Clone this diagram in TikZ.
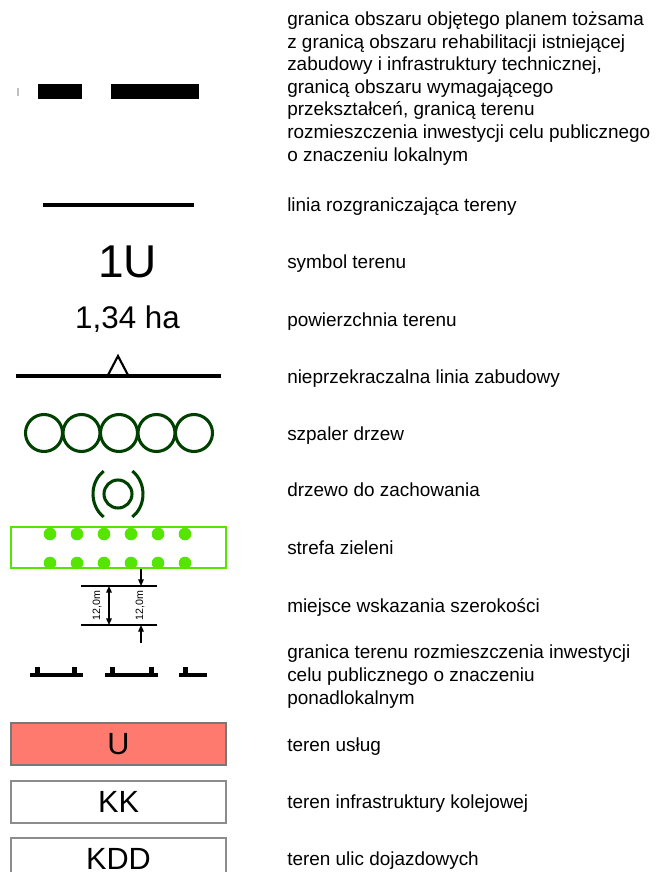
\documentclass[tikz,border=0pt]{standalone}
\usepackage{fontspec}
\setmainfont{Liberation Sans}
\usetikzlibrary{arrows.meta}
\definecolor{treegreen}{RGB}{0,64,0}
\definecolor{zgreen}{RGB}{85,229,0}
\definecolor{usal}{RGB}{255,122,110}
\definecolor{boxgray}{RGB}{120,120,120}
\begin{document}
\begin{tikzpicture}[x=0.75pt,y=-0.75pt,
  lbl/.style={anchor=base west, inner sep=0pt, font=\fontsize{14.2}{16.9}\selectfont, align=left},
  treeline/.style={draw=treegreen, line width=2.3pt},
  blackline/.style={draw=black, line width=2.4pt},
  zone/.style={draw=boxgray, line width=0.9pt, minimum width=161.25pt, minimum height=31.5pt, inner sep=0pt, font=\fontsize{23}{23}\selectfont},
  dimtxt/.style={rotate=90, inner sep=0pt, font=\fontsize{8}{8}\selectfont},
  tip/.style={-{Triangle[length=5pt,width=4.2pt]}, line width=1pt}
]
\useasboundingbox (0,0) rectangle (656,872);

% 1 boundary of plan
\draw[black!25, line width=0.8pt] (18,88) -- (18,96);
\fill[black] (38,84) rectangle (82,99);
\fill[black] (111,84) rectangle (199,99);
\node[lbl] (t1) at (287,161) {granica obszaru objętego planem tożsama\\z granicą obszaru rehabilitacji istniejącej\\zabudowy i infrastruktury technicznej,\\granicą obszaru wymagającego\\przekształceń, granicą terenu\\rozmieszczenia inwestycji celu publicznego\\o znaczeniu lokalnym};

% 2 demarcation line
\draw[blackline, line width=3pt] (43,205) -- (194,205);
\node[lbl] (t2) at (287,211) {linia rozgraniczająca tereny};

% 3 symbol
\node[inner sep=0pt, font=\fontsize{34.5}{34.5}\selectfont] (sym) at (127.5,262) {1U};
\node[lbl] (t3) at (287,268.5) {symbol terenu};

% 4 area
\node[inner sep=0pt, font=\fontsize{23.5}{23.5}\selectfont] (area) at (127.5,319) {1,34 ha};
\node[lbl] (t4) at (287,326) {powierzchnia terenu};

% 5 building line
\draw[blackline] (16,376) -- (221,376);
\draw[black, line width=1.6pt, line join=miter] (107.5,376) -- (118,356) -- (128.5,376);
\node[lbl] (t5) at (287,383) {nieprzekraczalna linia zabudowy};

% 6 tree row
\foreach \cx in {44,81.5,119,156.5,194}
  \draw[treeline] (\cx,433) circle[radius=18.5];
\node[lbl] (t6) at (287,440) {szpaler drzew};

% 7 tree
\draw[treeline] (118,494) circle[radius=14];
\draw[treeline] (118,494) ++(125:25 and 28) arc[start angle=125, end angle=235, x radius=25, y radius=28];
\draw[treeline] (118,494) ++(-55:25 and 28) arc[start angle=-55, end angle=55, x radius=25, y radius=28];
\node[lbl] (t7) at (287,496) {drzewo do zachowania};

% 8 green zone
\draw[draw=zgreen, line width=2.2pt] (11,527) rectangle (226,568);
\foreach \cx in {50,77,104,131,158,185}{
  \fill[zgreen] (\cx,534) circle[radius=6.3];
  \fill[zgreen] (\cx,563) circle[radius=6.3];
}
\node[lbl] (t8) at (287,554) {strefa zieleni};

% 9 width
\coordinate (wl1) at (81,586); \coordinate (wr1) at (157,586);
\coordinate (wl2) at (81,625); \coordinate (wr2) at (157,625);
\draw[line width=1.1pt] (wl1) -- (wr1);
\draw[line width=1.1pt] (wl2) -- (wr2);
\coordinate (da) at (109,586); \coordinate (db) at (109,625);
\draw[{Triangle[length=5pt,width=4.2pt]}-{Triangle[length=5pt,width=4.2pt]}, line width=1.1pt] (da) -- (db);
\coordinate (oa) at (141,569); \coordinate (ob) at (141,586);
\coordinate (oc) at (141,643); \coordinate (od) at (141,625);
\draw[tip] (oa) -- (ob);
\draw[tip] (oc) -- (od);
\node[dimtxt] (d1) at (97,605.5) {12,0m};
\node[dimtxt] (d2) at (140,605.5) {12,0m};
\node[lbl] (t9) at (287,612) {miejsce wskazania szerokości};

% 10 supra-local boundary
\draw[blackline, line width=2.6pt] (30,675) -- (83,675);
\draw[blackline, line width=2.6pt] (105,675) -- (158,675);
\draw[blackline, line width=2.6pt] (179,675) -- (207,675);
\foreach \tx in {37.5,74.5,112.5,151,185.5}
  \fill[black] (\tx-2.5,666.5) rectangle (\tx+2.5,676);
\node[lbl] (t10) at (287,704) {granica terenu rozmieszczenia inwestycji\\celu publicznego o znaczeniu\\ponadlokalnym};

% 11-13 zones
\node[zone, fill=usal] (zU) at (118.5,744) {U};
\node[lbl] (t11) at (287,751) {teren usług};
\node[zone, fill=white, draw=black!45] (zKK) at (118.5,802) {KK};
\node[lbl] (t12) at (287,808) {teren infrastruktury kolejowej};
\node[zone, fill=white, draw=black!45] (zKDD) at (118.5,859) {KDD};
\node[lbl] (t13) at (287,865) {teren ulic dojazdowych};
\end{tikzpicture}
\end{document}
